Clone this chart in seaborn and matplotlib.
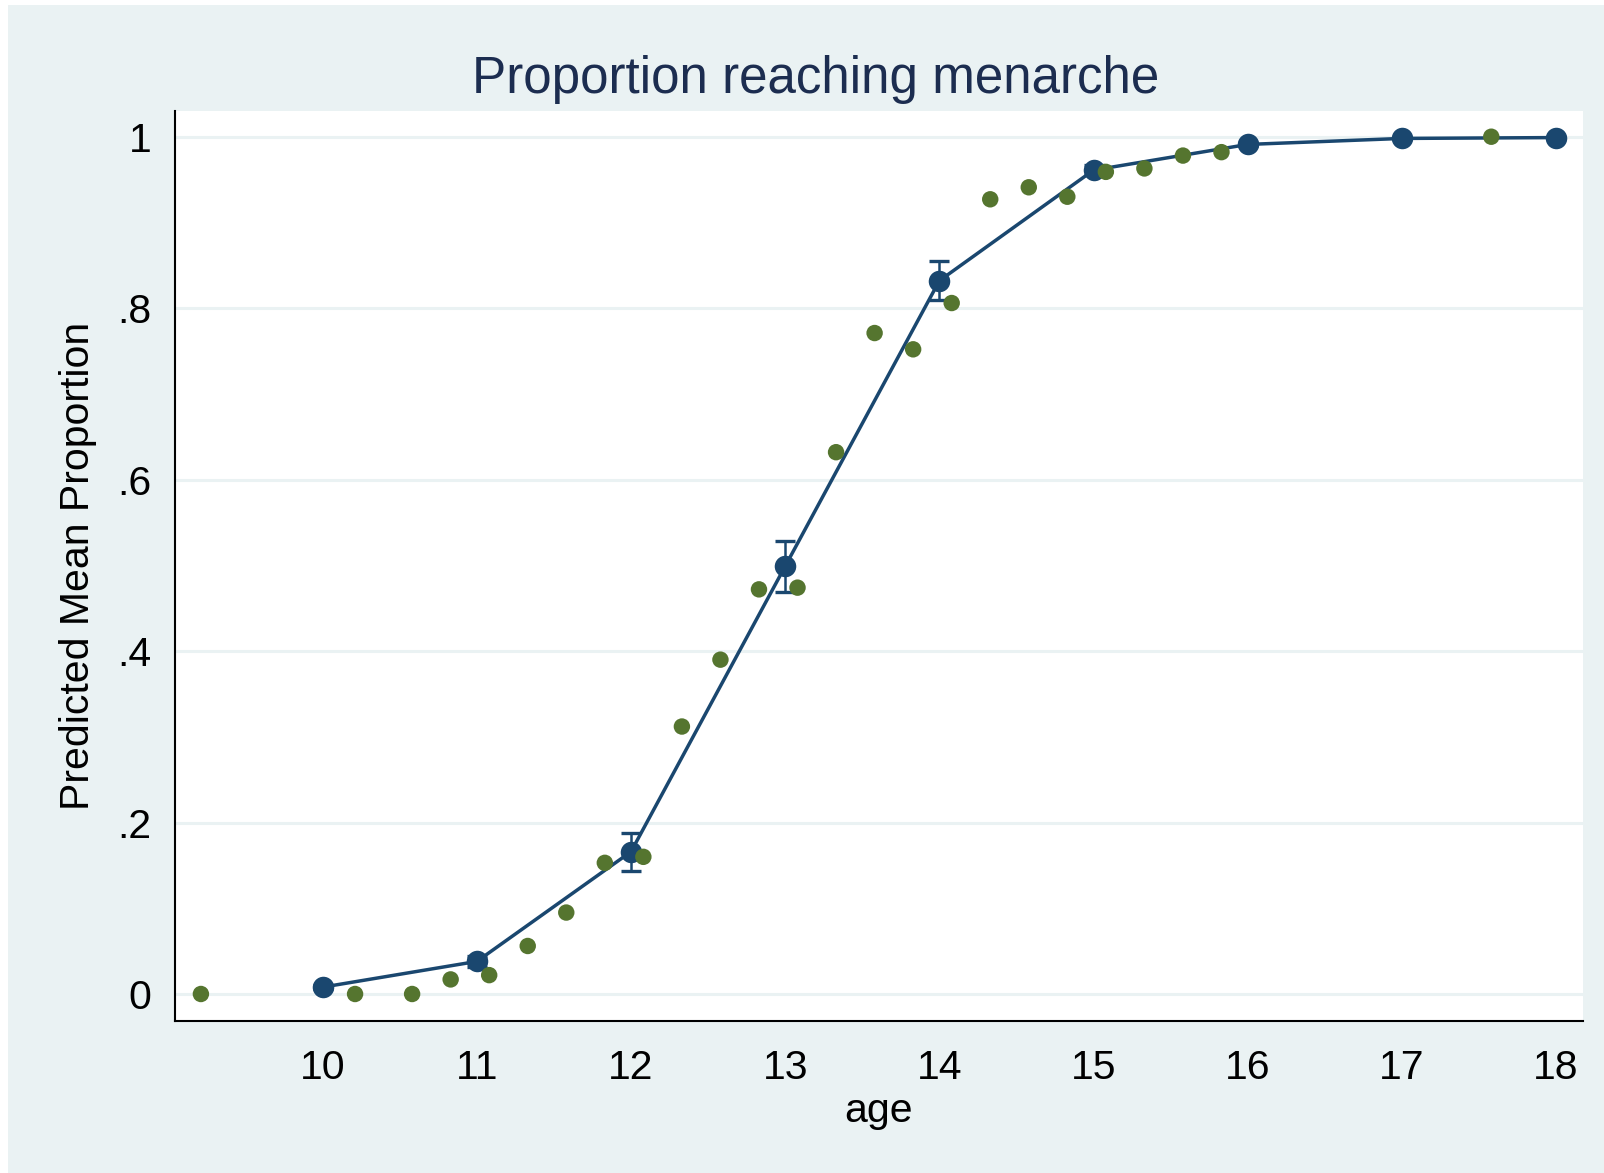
import numpy as np
import pandas as pd
import matplotlib.pyplot as plt
import seaborn as sns
from matplotlib.patches import Rectangle

# Fitted (predicted mean) proportion at whole ages, with CI ends
fit_age = [10, 11, 12, 13, 14, 15, 16, 17, 18]
fit_prop = [0.008, 0.038, 0.166, 0.499, 0.832, 0.961, 0.991, 0.998, 0.999]
fit_lo = [0.006, 0.032, 0.143, 0.4685, 0.810, 0.955, 0.989, 0.997, 0.999]
fit_hi = [0.010, 0.044, 0.188, 0.528, 0.8545, 0.967, 0.993, 0.999, 1.0]

# Observed proportions
obs_age = [9.21, 10.21, 10.58, 10.83, 11.08, 11.33, 11.58, 11.83, 12.08, 12.33,
           12.58, 12.83, 13.08, 13.33, 13.58, 13.83, 14.08, 14.33, 14.58, 14.83,
           15.08, 15.33, 15.58, 15.83, 17.58]
obs_prop = [0, 0, 0, 0.017, 0.022, 0.056, 0.095, 0.153, 0.160, 0.312,
            0.390, 0.472, 0.474, 0.632, 0.771, 0.752, 0.806, 0.927, 0.941, 0.930,
            0.959, 0.963, 0.978, 0.982, 1.0]

y_ticks = [0, 0.2, 0.4, 0.6, 0.8, 1]
y_labels = ["0", ".2", ".4", ".6", ".8", "1"]

fit_df = pd.DataFrame({"age": fit_age, "prop": fit_prop})
obs_df = pd.DataFrame({"age": obs_age, "prop": obs_prop})

sns.set_style("white")
plt.rcParams["font.family"] = ["Liberation Sans", "DejaVu Sans"]

bg = "#eaf2f3"
navy = "#1a476f"
green = "#55752f"

fig = plt.figure(figsize=(16.04, 11.73), dpi=100, facecolor="white")
fig.patches.append(Rectangle((8 / 1604, 0), 1, 1 - 5 / 1173, transform=fig.transFigure,
                             facecolor=bg, edgecolor="none", zorder=-10))
ax = fig.add_axes([175 / 1604, 1 - 1021 / 1173, 1408 / 1604, 910 / 1173])
ax.set_facecolor("white")

# gridlines
for yv in y_ticks:
    ax.axhline(yv, color=bg, lw=2.2, zorder=0)

sns.lineplot(data=fit_df, x="age", y="prop", ax=ax, color=navy, lw=2.5,
             marker="o", markersize=15.5, markeredgewidth=0, zorder=3)
err = np.array([np.array(fit_prop) - np.array(fit_lo), np.array(fit_hi) - np.array(fit_prop)])
ax.errorbar(fit_age, fit_prop, yerr=err, fmt="none", ecolor=navy, elinewidth=1.8,
            capsize=7.5, capthick=2.4, zorder=2.5)
sns.scatterplot(data=obs_df, x="age", y="prop", ax=ax, color=green, s=140,
                edgecolor="none", zorder=4)

ax.set_xlim(9.042, 18.175)
ax.set_ylim(-0.0315, 1.030)
ax.set_xticks(fit_age)
ax.set_xticklabels([str(a) for a in fit_age])
ax.set_yticks(y_ticks)
ax.set_yticklabels(y_labels)

for side in ["top", "right"]:
    ax.spines[side].set_visible(False)
for side in ["left", "bottom"]:
    ax.spines[side].set_color("black")
    ax.spines[side].set_linewidth(1.5)

ax.tick_params(axis="both", direction="out", length=11, width=1.5, color="black",
               labelsize=29.5, labelcolor="black")
ax.tick_params(axis="y", pad=6)
ax.tick_params(axis="x", pad=9)

ax.set_xlabel("age", fontsize=29.5, color="black")
ax.set_ylabel("Predicted Mean Proportion", fontsize=29.5, color="black")
ax.xaxis.set_label_coords(0.5, -0.078)
ax.yaxis.set_label_coords(-0.0554, 0.5)

fig.text(816 / 1604, 1 - 80 / 1173, "Proportion reaching menarche", ha="center",
         va="center", fontsize=36.8, color="#1c2d50")

fig.savefig("out.png", dpi=100, facecolor=fig.get_facecolor())
